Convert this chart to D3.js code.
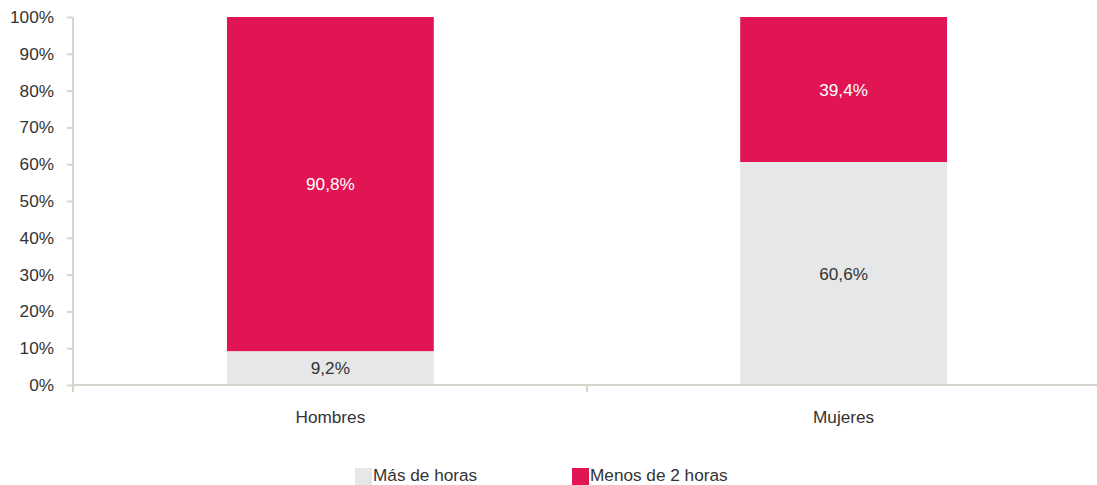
<!DOCTYPE html>
<html>
<head>
<meta charset="utf-8">
<script src="https://cdn.jsdelivr.net/npm/d3@7"></script>
<style>
  html, body { margin: 0; padding: 0; background: #fff; }
  svg text { font-family: "Liberation Sans", Arial, sans-serif; }
</style>
</head>
<body>
<svg id="chart" width="1097" height="485"></svg>
<script>
// Categories and stacked series (percent of total)
const categories = ["Hombres", "Mujeres"];
const masDeHoras = [9.2, 60.6];
const menosDe2Horas = [90.8, 39.4];
const seriesNames = ["Más de horas", "Menos de 2 horas"];
const yTicks = [0, 10, 20, 30, 40, 50, 60, 70, 80, 90, 100];

const colors = ["#e6e7e8", "#e11553"];
const labelColors = ["#333333", "#ffffff"];
const fontSize = 17.2;

const svg = d3.select("#chart");
const margin = { left: 73, right: -4, top: 17, bottom: 100 };
const W = 1097, H = 485;

const x = d3.scaleBand()
  .domain(categories)
  .range([margin.left, W - margin.right])
  .paddingInner(0.597)
  .paddingOuter(0.3);

const y = d3.scaleLinear()
  .domain([0, 100])
  .range([H - margin.bottom, margin.top]);

const rows = categories.map((c, i) => ({ cat: c, s0: masDeHoras[i], s1: menosDe2Horas[i] }));
const stack = d3.stack().keys(["s0", "s1"])(rows);

// Bars with centred value labels
const g = svg.append("g");
stack.forEach((layer, li) => {
  g.selectAll(null).data(layer).enter().append("rect")
    .attr("x", d => x(d.data.cat))
    .attr("width", x.bandwidth())
    .attr("y", d => y(d[1]))
    .attr("height", d => y(d[0]) - y(d[1]))
    .attr("fill", colors[li]);
  g.selectAll(null).data(layer).enter().append("text")
    .attr("x", d => x(d.data.cat) + x.bandwidth() / 2)
    .attr("y", d => (y(d[0]) + y(d[1])) / 2)
    .attr("dy", "0.35em")
    .attr("text-anchor", "middle")
    .attr("font-size", fontSize)
    .attr("fill", labelColors[li])
    .text(d => d3.format(".1f")(d[1] - d[0]).replace(".", ",") + "%");
});

const axisColor = "#d8d3cc";

// Y axis
const yAxis = svg.append("g")
  .attr("transform", `translate(${margin.left},0)`)
  .call(d3.axisLeft(y).tickValues(yTicks).tickSize(6).tickPadding(13).tickFormat(d => d + "%"));
yAxis.select(".domain").attr("stroke", axisColor).attr("stroke-width", 2)
  .attr("d", `M0,${y(100)}V${y(0)}`);
yAxis.selectAll(".tick line").attr("stroke", axisColor).attr("stroke-width", 2);
yAxis.selectAll(".tick text").attr("font-size", fontSize).attr("fill", "#333")
  .attr("font-family", "'Liberation Sans', Arial, sans-serif");

// X axis with boundary ticks between categories
const xAxisY = y(0);
const xg = svg.append("g").attr("transform", `translate(0,${xAxisY})`);
xg.append("line")
  .attr("x1", margin.left).attr("x2", W)
  .attr("stroke", axisColor).attr("stroke-width", 2);
const bounds = [margin.left, (x(categories[0]) + x(categories[1]) + x.bandwidth()) / 2];
bounds.forEach(b => {
  xg.append("line").attr("x1", b).attr("x2", b).attr("y1", 0).attr("y2", 7)
    .attr("stroke", axisColor).attr("stroke-width", 2);
});
xg.selectAll(null).data(categories).enter().append("text")
  .attr("x", d => x(d) + x.bandwidth() / 2)
  .attr("y", 38)
  .attr("text-anchor", "middle")
  .attr("font-size", fontSize)
  .attr("fill", "#333")
  .text(d => d);

// Legend
const legendX = [355, 572];
const lg = svg.append("g");
seriesNames.forEach((name, i) => {
  lg.append("rect").attr("x", legendX[i]).attr("y", 468).attr("width", 17).attr("height", 17)
    .attr("fill", colors[i]);
  lg.append("text").attr("x", legendX[i] + 18).attr("y", 481)
    .attr("font-size", fontSize).attr("fill", "#333").text(name);
});
</script>
</body>
</html>
